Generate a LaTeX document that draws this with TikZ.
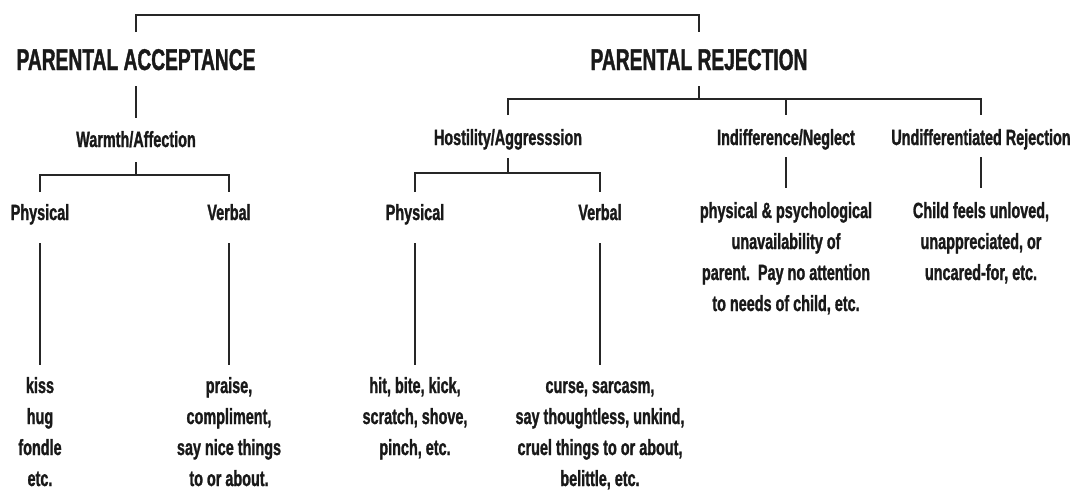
\documentclass[tikz,border=0pt]{standalone}
\usepackage{fontspec}
\newfontfamily\diagfont[FakeStretch=0.655, FakeBold=1.2]{Liberation Sans}
\newfontfamily\headfont[FakeStretch=0.64, FakeBold=1.2]{Liberation Sans}
% centred stack of lines whose baseline is the first line
\newcommand\stacklines[1]{\begin{tabular}[t]{@{}c@{}}#1\end{tabular}}
\begin{document}
\begin{tikzpicture}[x=1pt,y=-1pt,
  every node/.style={inner sep=0pt, outer sep=0pt, text=black!90},
  headline/.style={anchor=base, font=\headfont\bfseries\fontsize{30}{36}\selectfont,
    text height=22pt, text depth=0pt},
  catlabel/.style={anchor=base, font=\diagfont\bfseries\fontsize{22}{31}\selectfont,
    text height=16pt, text depth=5pt},
  detail/.style={anchor=base, font=\diagfont\bfseries\fontsize{22}{31}\selectfont},
  link/.style={draw=black!85, line width=1.5pt}
]
\useasboundingbox (0,0) rectangle (1078,491);

% main headings
\node[headline] (acc) at (136,70) {PARENTAL ACCEPTANCE};
\node[headline] (rej) at (699,70) {PARENTAL REJECTION};

% acceptance branch
\node[catlabel] (warm)  at (136,147) {Warmth/Affection};
\node[catlabel] (phys1) at (40,220)  {Physical};
\node[catlabel] (verb1) at (229,220) {Verbal};
\node[detail] (kiss)   at (40,393)  {\stacklines{kiss\\hug\\fondle\\etc.}};
\node[detail] (praise) at (229,393) {\stacklines{praise,\\compliment,\\say nice things\\to or about.}};

% rejection branch
\node[catlabel] (host)   at (508,145) {Hostility/Aggresssion};
\node[catlabel] (indiff) at (786,145) {Indifference/Neglect};
\node[catlabel] (undiff) at (981,145) {Undifferentiated Rejection};
\node[catlabel] (phys2)  at (415,220) {Physical};
\node[catlabel] (verb2)  at (600,220) {Verbal};
\node[detail] (hit)   at (415,393) {\stacklines{hit, bite, kick,\\scratch, shove,\\pinch, etc.}};
\node[detail] (curse) at (600,393) {\stacklines{curse, sarcasm,\\say thoughtless, unkind,\\cruel things to or about,\\belittle, etc.}};
\node[detail] (neglect) at (786,218) {\stacklines{physical \& psychological\\unavailability of\\parent.\ \ Pay no attention\\to needs of child, etc.}};
\node[detail] (unloved) at (981,218) {\stacklines{Child feels unloved,\\unappreciated, or\\uncared-for, etc.}};

% junction points of the brackets
\coordinate (topbar) at (400,15);
\coordinate (wbar) at (136,175);
\coordinate (rbar) at (699,99);
\coordinate (hbar) at (508,173);

% top bracket joining the two headings
\draw[link, shorten <=16pt, shorten >=16pt] (acc.north) |- (topbar) -| (rej.north);

% acceptance connectors
\draw[link, shorten <=16pt, shorten >=13pt] (acc.south) -- (warm.north);
\draw[link, shorten <=10pt] (warm.south) -- (wbar);
\draw[link, shorten <=12pt, shorten >=12pt] (phys1.north) |- (wbar) -| (verb1.north);
\draw[link, shorten <=18pt, shorten >=6pt] (phys1.south) -- (kiss.north);
\draw[link, shorten <=18pt, shorten >=6pt] (verb1.south) -- (praise.north);

% rejection connectors
\draw[link, shorten <=16pt] (rej.south) -- (rbar);
\draw[link, shorten <=14pt, shorten >=14pt] (host.north) |- (rbar) -| (undiff.north);
\draw[link, shorten >=14pt] (indiff.north |- rbar) -- (indiff.north);
\draw[link, shorten <=8pt] (host.south) -- (hbar);
\draw[link, shorten <=12pt, shorten >=12pt] (phys2.north) |- (hbar) -| (verb2.north);
\draw[link, shorten <=18pt, shorten >=6pt] (phys2.south) -- (hit.north);
\draw[link, shorten <=18pt, shorten >=6pt] (verb2.south) -- (curse.north);
\draw[link, shorten <=7pt, shorten >=8pt] (indiff.south) -- (neglect.north);
\draw[link, shorten <=7pt, shorten >=8pt] (undiff.south) -- (unloved.north);
\end{tikzpicture}
\end{document}
